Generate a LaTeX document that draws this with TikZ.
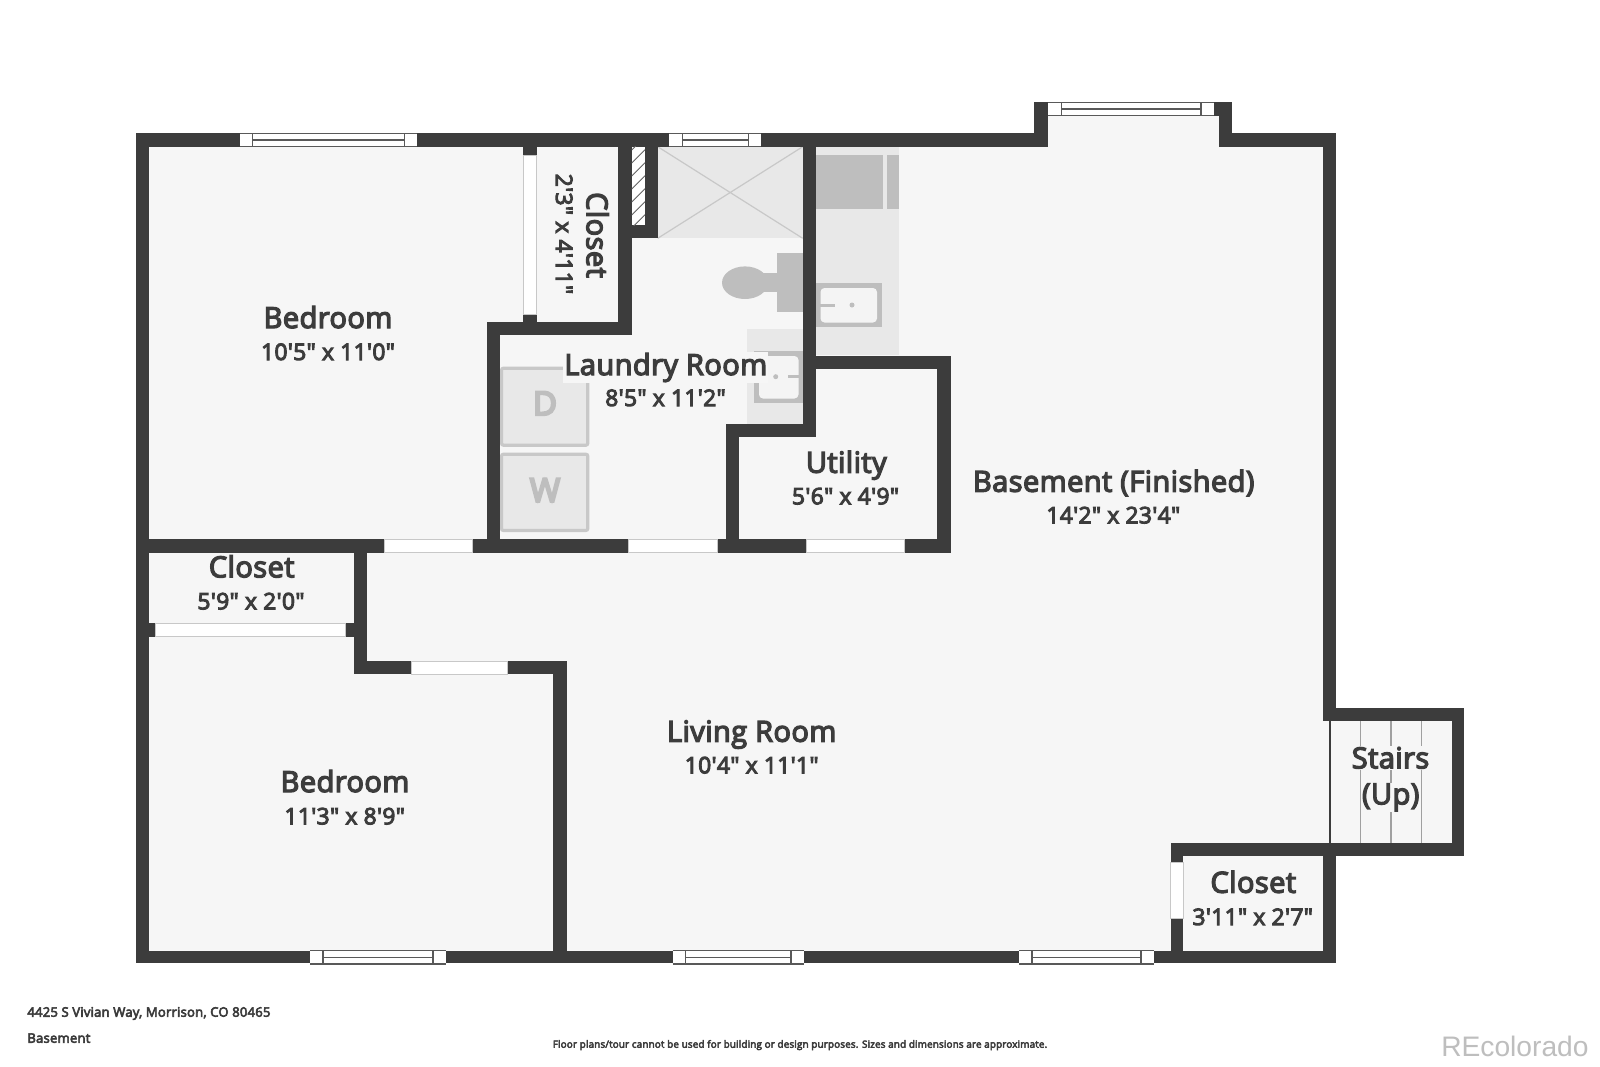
\documentclass[tikz,border=0pt]{standalone}
\usepackage{fontspec}
\newfontfamily\planfont{Open Sans}[FakeBold=4.5, LetterSpace=1.5]
\newfontfamily\letterfont{Open Sans}[FakeBold=7]
\newfontfamily\logofont{Liberation Sans}
\definecolor{wallc}{HTML}{3C3C3C}
\definecolor{floorc}{HTML}{F6F6F6}
\definecolor{fixc}{HTML}{BEBEBE}
\definecolor{padc}{HTML}{E8E8E8}
\definecolor{edgec}{HTML}{C8C8C8}
\begin{document}
\begin{tikzpicture}[x=0.5pt, y=-0.5pt,
    wall/.style={fill=wallc},
    room/.style={font=\planfont\fontsize{14.5}{16}\selectfont, text=wallc, inner sep=0.5pt, fill=floorc, anchor=base},
    dim/.style={font=\planfont\fontsize{11.4}{13}\selectfont, text=wallc, inner sep=0.5pt, fill=floorc, anchor=base},
    foot/.style={font=\planfont\fontsize{6.55}{8}\selectfont, text=wallc, inner sep=0pt},
    opening/.style={fill=white, draw=edgec, line width=0.5pt},
    pane/.style={draw=wallc!85, line width=0.7pt},
    appliance/.style={fill=padc, draw=edgec, line width=1.6pt, rounded corners=1pt},
    letter/.style={font=\letterfont\fontsize{16.3}{18}\selectfont, text=fixc, inner sep=0pt, anchor=base}]
  \useasboundingbox (0,0) rectangle (1600,1066);
  \fill[white] (0,0) rectangle (1600,1066);
  % floor
  \fill[floorc] (140,140) -- (1040,140) -- (1040,110) -- (1225,110) -- (1225,140) -- (1330,140)
    -- (1330,714) -- (1458,714) -- (1458,850) -- (1330,850) -- (1330,957) -- (140,957) -- cycle;
  % shower
  \fill[padc] (657.7,146.7) rectangle (802.7,238.3);
  \draw[edgec, line width=0.6pt] (657.7,146.7) -- (802.7,238.3) (657.7,238.3) -- (802.7,146.7);
  % toilet
  \fill[fixc] (776.7,253.3) rectangle (802.7,312.3);
  \fill[fixc] (763,273) rectangle (777,292);
  \fill[fixc] (745,282.7) ellipse (23 and 16.3);
  % kitchen counter
  \fill[padc] (815.7,146.7) rectangle (899.3,355);
  \fill[fixc] (815.7,155) rectangle (882.7,209.3);
  \fill[fixc] (887.3,155) rectangle (899.3,209.3);
  \fill[fixc] (815.7,283.3) rectangle (881.7,327.3);
  \fill[padc!50!white, rounded corners=2pt] (820.5,288) rectangle (877,322.5);
  \fill[fixc] (820,303.5) rectangle (835,306.5);
  \fill[fixc] (852,305) circle (2.5);
  % laundry sink
  \fill[padc] (747.3,329) rectangle (802.7,424.3);
  \fill[fixc] (754.3,351) rectangle (802.7,403.3);
  \fill[padc!50!white, rounded corners=2pt] (759,356) rectangle (798.5,398.5);
  \fill[fixc] (788,375.2) rectangle (803,378.2);
  \fill[fixc] (775.7,376.7) circle (2.5);
  % dryer and washer
  \draw[appliance] (501.5,368.2) rectangle (587.8,445.2);
  \draw[appliance] (501.5,454.2) rectangle (587.8,530.5);
  \node[letter] (dryer) at (545,415) {D};
  \node[letter] (washer) at (545,501.7) {W};
  % stairs
  \foreach \sx in {1360.7,1391,1421.7}
    \draw[edgec!80!black, line width=0.6pt] (\sx,720) -- (\sx,843.3);
  \draw[wallc, line width=0.9pt] (1330,720) -- (1330,843.3);
  % walls
  \foreach \xa/\ya/\xb/\yb in {135.7/133.3/1047.7/146.7, 1034.3/102.3/1047.7/146.7, 1034.3/102.3/1232.3/115.7,
      1219.3/102.3/1232.3/146.7, 1219.3/133.3/1335.7/146.7, 1322.7/133.3/1335.7/720.7,
      1322.7/707.7/1464.3/720.7, 1451.7/707.7/1464.3/856, 1170.7/843.3/1464.3/856,
      1322.7/843.3/1335.7/963.3, 135.7/950.7/1335.7/963.3, 135.7/133.3/149/963.3,
      1170.7/843.3/1183.3/963.3, 553.3/661/566.7/963.3, 354/661/566.7/674,
      354/539.3/367.3/674, 135.7/623.3/354/636.7, 135.7/539.3/950.7/552.7,
      486.7/321.7/500/552.7, 486.7/321.7/631.7/335, 618.3/133.3/631.7/335,
      523.3/133.3/536.7/335, 645/133.3/657.7/238.3, 618.3/225/657.7/238.3,
      802.7/133.3/815.7/437.3, 802.7/356/950.7/369.3, 937.3/356/950.7/552.7,
      726/424.3/815.7/437.3, 726/424.3/739.3/552.7}
    \fill[wall] (\xa,\ya) rectangle (\xb,\yb);
  % shaft
  \fill[white] (631.7,146.7) rectangle (645,225);
  \begin{scope}
    \clip (631.7,146.7) rectangle (645,225);
    \foreach \hy in {150,163,...,250}
      \draw[wallc!80, line width=0.5pt] (631.7,\hy) -- (645,\hy-13.3);
  \end{scope}
  % doorways
  \foreach \xa/\ya/\xb/\yb in {384.3/539.3/472.7/552.7, 628.3/539.3/717.3/552.7, 806.7/539.3/904/552.7,
      155/623.3/345.3/636.7, 411/661/507.3/674, 523.3/155.7/536.7/314, 1170.7/862.7/1183.3/918.3}
    \draw[opening] (\xa,\ya) rectangle (\xb,\yb);
  % windows
  \foreach \xa/\xc/\xd/\xb/\ya in {240/252.7/404.3/417/133.3, 669.3/682.3/748.7/761/133.3, 1047.7/1061.7/1201/1214/102.3,
      310/323/433/445.7/950.7, 672.7/685.7/791/804/950.7, 1019/1032/1141/1154.3/950.7} {
    \fill[white] (\xa,\ya) rectangle (\xb,\ya+13.4);
    \draw[pane] (\xa,\ya) -- (\xb,\ya) (\xa,\ya+13.4) -- (\xb,\ya+13.4);
    \draw[pane] (\xc,\ya) rectangle (\xd,\ya+13.4);
    \draw[pane] (\xc,\ya+6.7) -- (\xd,\ya+6.7);
  }
  % labels
  \node[room] (bedtop) at (328,328) {Bedroom};
  \node[dim] (bedtopdim) at (328,360) {10'5" x 11'0"};
  \node[room, rotate=-90] (clostop) at (586.7,235) {Closet};
  \node[dim, rotate=-90] (clostopdim) at (556,234) {2'3" x 4'11"};
  \node[room] (laundry) at (665.8,375) {Laundry Room};
  \node[dim] (laundrydim) at (665.5,406) {8'5" x 11'2"};
  \node[room] (utility) at (846.3,472.7) {Utility};
  \node[dim] (utilitydim) at (845.5,504.3) {5'6" x 4'9"};
  \node[room] (basement) at (1113.7,491.7) {Basement (Finished)};
  \node[dim] (basementdim) at (1113.3,523.3) {14'2" x 23'4"};
  \node[room] (closmid) at (251.7,577.3) {Closet};
  \node[dim] (closmiddim) at (251,609.3) {5'9" x 2'0"};
  \node[room] (bedlow) at (345,792) {Bedroom};
  \node[dim] (bedlowdim) at (344.7,824.3) {11'3" x 8'9"};
  \node[room] (living) at (751.7,741.7) {Living Room};
  \node[dim] (livingdim) at (751.7,773.3) {10'4" x 11'1"};
  \node[room] (stairs) at (1390.5,768.3) {Stairs};
  \node[room] (stairsup) at (1390.7,804.3) {(Up)};
  \node[room] (closlow) at (1253.3,892.7) {Closet};
  \node[dim] (closlowdim) at (1252.7,925) {3'11" x 2'7"};
  % footer
  \node[foot, anchor=base west] (address) at (27,1016.7) {4425 S Vivian Way, Morrison, CO 80465};
  \node[foot, anchor=base west] (level) at (27,1042.7) {Basement};
  \node[foot, anchor=base, font=\planfont\fontsize{4.95}{6}\selectfont] (notice) at (800,1047.7) {Floor plans/tour cannot be used for building or design purposes. Sizes and dimensions are approximate.};
  \node[anchor=base east, inner sep=0pt, text=fixc, font=\logofont\fontsize{14.1}{16}\selectfont] (logo) at (1589,1056.7) {REcolorado};
\end{tikzpicture}
\end{document}
